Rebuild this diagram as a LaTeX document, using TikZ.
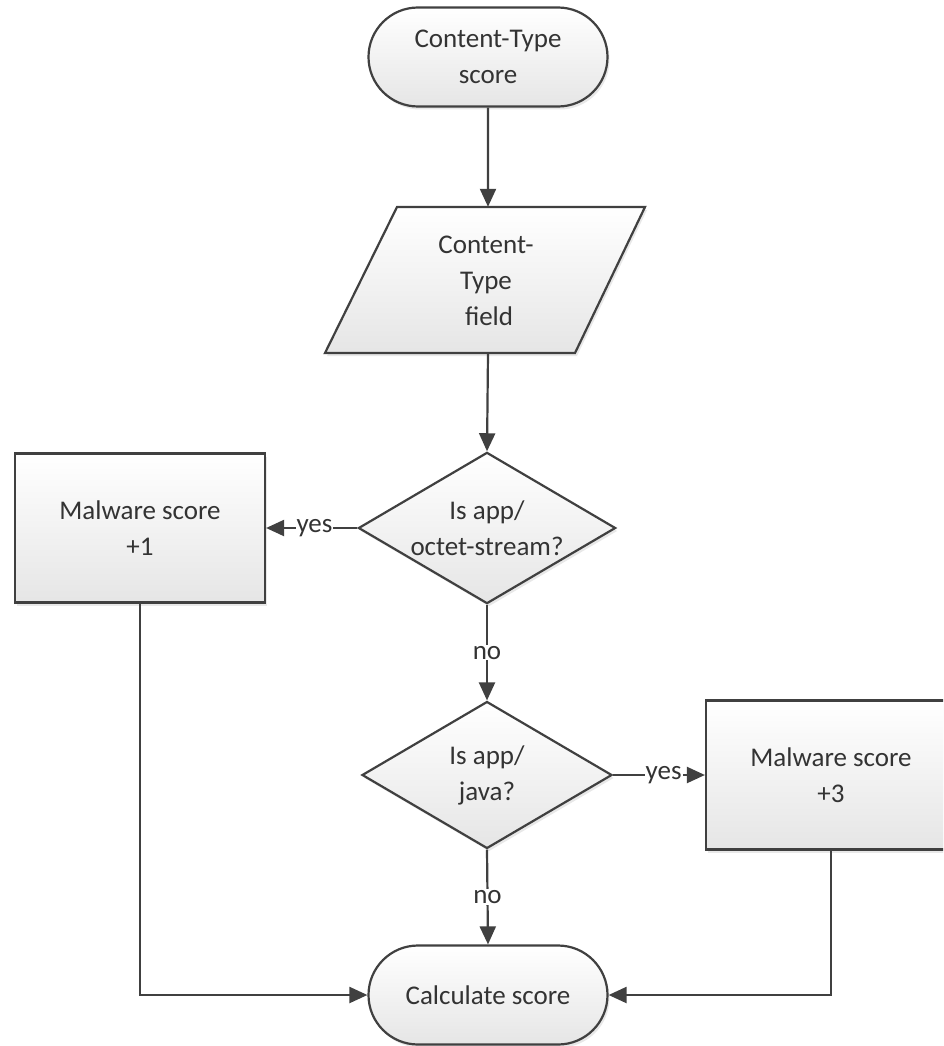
\documentclass[tikz,border=0pt]{standalone}
\usepackage{fontspec}
\setmainfont{Carlito}
\usetikzlibrary{shapes.geometric,shapes.misc,arrows.meta,shadows,calc}
\definecolor{edge}{HTML}{404040}
\definecolor{txt}{HTML}{333333}
\begin{document}
\begin{tikzpicture}[x=1pt,y=-1pt,
  font=\fontsize{27}{36}\selectfont, text=txt,
  base/.style={draw=edge, line width=2.2pt, top color=white, bottom color=black!10,
     align=center, inner sep=2pt,
     drop shadow={opacity=0.18, shadow xshift=2pt, shadow yshift=-3pt}},
  term/.style={base, rounded rectangle, minimum width=243pt, minimum height=99pt},
  proc/.style={base, rectangle, minimum width=250pt, minimum height=149pt},
  dec/.style={base, diamond, minimum width=250pt, minimum height=147pt, shape aspect=1.7},
  ghost/.style={minimum width=250pt, minimum height=146pt, align=center, inner sep=0pt},
  arr/.style={draw=edge, line width=2.2pt, -{Triangle[length=18pt,width=16pt]}},
  lbl/.style={fill=white, inner sep=1pt, text=txt}]
\clip (0,0) rectangle (943,1046);
\fill[white] (0,0) rectangle (943,1046);

\node[term] (start) at (488,57) {Content-Type\\score};

% parallelogram (input)
\node[ghost] (fld) at (488,280) {};
\path[base] ($(fld.center)+(-91,-73)$) -- ($(fld.center)+(157,-73)$)
   -- ($(fld.center)+(87,73)$) -- ($(fld.center)+(-163,73)$) -- cycle;
\node[align=center] (fldtxt) at (486,281) {Content-\\Type\\\ field};

\node[dec] (d1) at (487,528) {Is app/\\octet-stream?};
\node[proc] (m1) at (140,528) {Malware score\\+1};
\node[dec] (d2) at (487,775) {Is app/\\java?};
\node[proc] (m3) at (831,775) {Malware score\\+3};
\node[term] (calc) at (488,995) {Calculate score};

\draw[arr] (start) -- (fld.north);
\draw[arr] (fld.south) -- (d1.north);
\draw[arr] (d1.west) -- node[lbl, pos=0.47] {yes} (m1.east);
\draw[arr] (d1.south) -- node[lbl] {no} (d2.north);
\draw[arr] (d2.east) -- node[lbl, pos=0.55] {yes} (m3.west);
\draw[arr] (d2.south) -- node[lbl] {no} (calc.north);
\draw[arr] (m1.south) |- (calc.west);
\draw[arr] (m3.south) |- (calc.east);
\end{tikzpicture}
\end{document}
